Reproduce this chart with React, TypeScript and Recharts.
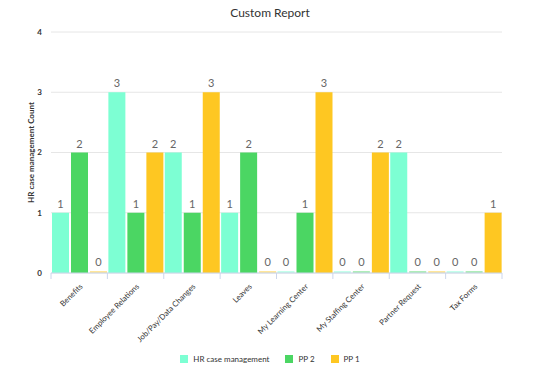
import React from "react";
import { BarChart, Bar, XAxis, YAxis, CartesianGrid, Legend, LabelList, Cell } from "recharts";

const categories = [
  "Benefits",
  "Employee Relations",
  "Job/Pay/Data Changes",
  "Leaves",
  "My Learning Center",
  "My Staffing Center",
  "Partner Request",
  "Tax Forms",
];
const hrCase = [1, 3, 2, 1, 0, 0, 2, 0];
const pp2 = [2, 1, 1, 2, 1, 0, 0, 0];
const pp1 = [0, 2, 3, 0, 3, 2, 0, 1];
const yTicks = [0, 1, 2, 3, 4];

const series = [
  { key: "hr", name: "HR case management", color: "#7dffd3" },
  { key: "pp2", name: "PP 2", color: "#4bd663" },
  { key: "pp1", name: "PP 1", color: "#fec722" },
];

const data = categories.map((c, i) => ({ name: c, hr: hrCase[i], pp2: pp2[i], pp1: pp1[i] }));

const W = 540;
const H = 370;
const LEFT = 51;
const RIGHT = 38;
const band = (W - LEFT - RIGHT) / categories.length;
const FONT = "Lato, 'Open Sans', sans-serif";

function XTick(props: any) {
  const { x, y, payload, index } = props;
  const tx = x + 4;
  const ty = y + 6;
  return (
    <g>
      <line x1={x - band / 2} x2={x - band / 2} y1={y - 8} y2={y - 2} stroke="#ccd6eb" />
      {index === categories.length - 1 && (
        <line x1={x + band / 2} x2={x + band / 2} y1={y - 8} y2={y - 2} stroke="#ccd6eb" />
      )}
      <text
        x={tx}
        y={ty}
        textAnchor="end"
        transform={`rotate(-45, ${tx}, ${ty})`}
        fontSize={7.8}
        fill="#333"
        fontFamily={FONT}
      >
        {payload.value}
      </text>
    </g>
  );
}

function LegendContent() {
  return (
    <div
      style={{
        display: "flex",
        justifyContent: "center",
        gap: 16,
        fontFamily: FONT,
        fontSize: 8,
        color: "#333",
        lineHeight: "10px",
        paddingLeft: 38,
        paddingTop: 4,
      }}
    >
      {series.map((s) => (
        <div key={s.key} style={{ display: "flex", alignItems: "center" }}>
          <span style={{ width: 8, height: 8, background: s.color, display: "inline-block", marginRight: 5 }} />
          {s.name}
        </div>
      ))}
    </div>
  );
}

export default function App() {
  return (
    <div style={{ position: "absolute", left: 0, top: 0, width: W, height: H, background: "#fff" }}>
      <div
        style={{
          position: "absolute",
          top: 5,
          width: W,
          textAlign: "center",
          fontFamily: FONT,
          fontSize: 12,
          color: "#333",
        }}
      >
        Custom Report
      </div>
      <BarChart
        width={W}
        height={H}
        data={data}
        margin={{ top: 32, right: RIGHT, left: 0, bottom: 0 }}
        barCategoryGap={1}
        barGap={2}
      >
        <CartesianGrid vertical={false} stroke="#e6e6e6" />
        <XAxis
          dataKey="name"
          interval={0}
          height={77}
          tick={<XTick />}
          tickLine={false}
          axisLine={{ stroke: "#ccd6eb" }}
        />
        <YAxis
          width={LEFT}
          domain={[0, 4]}
          ticks={yTicks}
          tickLine={false}
          axisLine={false}
          tickSize={0}
          tickMargin={9}
          tick={{ fontSize: 8, fill: "#333", fontWeight: "bold", fontFamily: FONT }}
          label={{
            value: "HR case management Count",
            angle: -90,
            position: "insideLeft",
            offset: 31,
            style: { textAnchor: "middle", fontSize: 8, fontWeight: "bold", fill: "#333", fontFamily: FONT },
          }}
        />
        <Legend verticalAlign="bottom" height={20} content={<LegendContent />} />
        {series.map((s) => (
          <Bar key={s.key} dataKey={s.key} name={s.name} fill={s.color} minPointSize={2} isAnimationActive={false}>
            {data.map((d: any, i) => (
              <Cell key={i} fillOpacity={d[s.key] === 0 ? 0.45 : 1} />
            ))}
            <LabelList dataKey={s.key} position="top" offset={5} fontSize={11} fill="#666" fontFamily={FONT} />
          </Bar>
        ))}
      </BarChart>
    </div>
  );
}
